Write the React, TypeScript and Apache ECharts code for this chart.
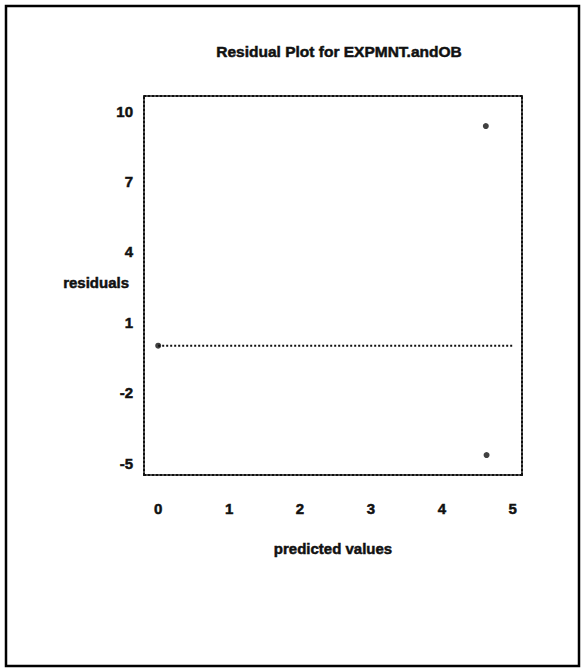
import React, { useEffect, useRef } from "react";
import * as echarts from "echarts";

// Residuals versus predicted values
const points: [number, number][] = [
  [0, 0],
  [4.62, 9.36],
  [4.63, -4.66],
];
// Zero-residual reference line
const zeroLine: [number, number][] = [
  [0, 0],
  [5, 0],
];
const xTicks = [0, 1, 2, 3, 4, 5];
const yTicks = [10, 7, 4, 1, -2, -5];

const titleText = "Residual Plot for EXPMNT.andOB";
const xName = "predicted values";
const yName = "residuals";

const FONT = "'Liberation Sans', Arial, sans-serif";
const INK = "#111";
const dotted = { color: INK, width: 2, type: [2, 2] as number[] };

export default function App() {
  const ref = useRef<HTMLDivElement>(null);

  useEffect(() => {
    if (!ref.current) return;
    const chart = echarts.init(ref.current, undefined, { renderer: "svg" });
    // heavy, slightly thickened lettering
    const labelStyle = {
      color: INK,
      fontFamily: FONT,
      fontWeight: "bold" as const,
      fontSize: 15,
      textBorderColor: INK,
      textBorderWidth: 0.5,
    };
    chart.setOption({
      animation: false,
      backgroundColor: "#fff",
      title: {
        text: titleText,
        left: 334,
        top: 38,
        textAlign: "center",
        textStyle: { ...labelStyle, fontSize: 15.5 },
      },
      grid: { left: 144, top: 96, right: 60, bottom: 196 },
      xAxis: [
        {
          type: "value",
          min: -0.2,
          max: 5.13,
          position: "bottom",
          name: xName,
          nameLocation: "middle",
          nameGap: 66,
          nameTextStyle: { ...labelStyle },
          axisLine: { show: true, onZero: false, lineStyle: dotted },
          axisTick: { show: false },
          splitLine: { show: false },
          axisLabel: { ...labelStyle, margin: 26, customValues: xTicks },
        },
        {
          type: "value",
          min: -0.2,
          max: 5.13,
          position: "top",
          axisLine: { show: true, onZero: false, lineStyle: dotted },
          axisTick: { show: false },
          axisLabel: { show: false },
          splitLine: { show: false },
        },
      ],
      yAxis: [
        {
          type: "value",
          min: -5.51,
          max: 10.64,
          position: "left",
          axisLine: { show: true, onZero: false, lineStyle: dotted },
          axisTick: { show: false },
          splitLine: { show: false },
          axisLabel: { ...labelStyle, margin: 11, customValues: yTicks },
        },
        {
          type: "value",
          min: -5.51,
          max: 10.64,
          position: "right",
          axisLine: { show: true, onZero: false, lineStyle: dotted },
          axisTick: { show: false },
          axisLabel: { show: false },
          splitLine: { show: false },
        },
      ],
      graphic: [
        {
          type: "rect",
          shape: { x: 6, y: 6, width: 573, height: 660 },
          style: { fill: "none", stroke: "#000", lineWidth: 2.5 },
          silent: true,
        },
        {
          type: "text",
          x: 129,
          y: 282,
          style: {
            text: yName,
            fill: INK,
            stroke: INK,
            lineWidth: 0.5,
            font: `bold 15px ${FONT}`,
            textAlign: "right",
            textVerticalAlign: "middle",
          },
        },
      ],
      series: [
        {
          type: "line",
          data: zeroLine,
          symbol: "none",
          lineStyle: { color: INK, width: 2, type: [2, 2] },
          silent: true,
        },
        {
          type: "scatter",
          data: points,
          symbol: "circle",
          symbolSize: 6,
          itemStyle: { color: INK },
        },
      ],
    });
    return () => chart.dispose();
  }, []);

  return (
    <div
      ref={ref}
      style={{ position: "absolute", left: 0, top: 0, width: 582, height: 671 }}
    />
  );
}
